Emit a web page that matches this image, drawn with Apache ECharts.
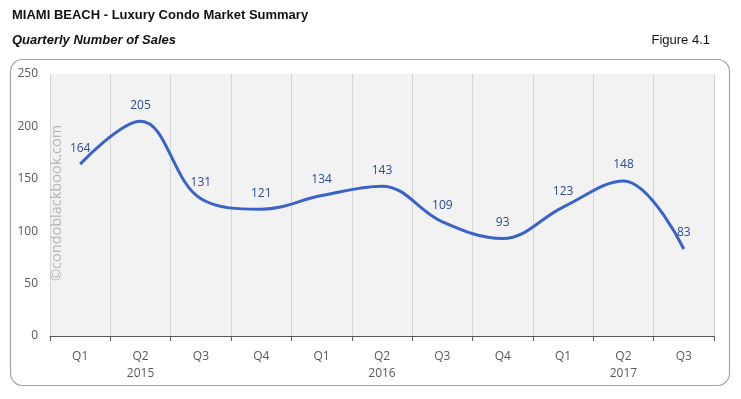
<!DOCTYPE html>
<html>
<head>
<meta charset="utf-8">
<script src="https://cdn.jsdelivr.net/npm/echarts@6/dist/echarts.min.js"></script>
<style>
  html, body { margin: 0; padding: 0; background: #fff; }
  #chart { width: 741px; height: 399px; }
</style>
</head>
<body>
<div id="chart"></div>
<script>
var quarters = ['Q1', 'Q2', 'Q3', 'Q4', 'Q1', 'Q2', 'Q3', 'Q4', 'Q1', 'Q2', 'Q3'];
var years = ['', '2015', '', '', '', '2016', '', '', '', '2017', ''];
var sales = [164, 205, 131, 121, 134, 143, 109, 93, 123, 148, 83];
var yTicks = [0, 50, 100, 150, 200, 250];

var myChart = echarts.init(document.getElementById('chart'));

var option = {
    animation: false,
    textStyle: { fontFamily: 'Open Sans, DejaVu Sans, sans-serif' },
    graphic: [
        {
            type: 'text', left: 12, top: 9,
            style: { text: 'MIAMI BEACH - Luxury Condo Market Summary', font: 'bold 13px "Liberation Sans Narrow", "Liberation Sans", Arial', fill: '#111' }
        },
        {
            type: 'text', left: 12, top: 34,
            style: { text: 'Quarterly Number of Sales', font: 'italic bold 13px "Liberation Sans Narrow", "Liberation Sans", Arial', fill: '#111' }
        },
        {
            type: 'text', right: 31, top: 34,
            style: { text: 'Figure 4.1', font: '13px "Liberation Sans Narrow", "Liberation Sans", Arial', fill: '#111' }
        },
        {
            type: 'rect', z: -10,
            shape: { x: 10.5, y: 59.5, width: 719, height: 326, r: 12 },
            style: { fill: '#fff', stroke: '#a6a6a6', lineWidth: 1.2 }
        },
        {
            type: 'text', z: 5,
            x: 49, y: 281, rotation: Math.PI / 2,
            style: { text: '©condoblackbook.com', font: '14.5px "Open Sans", sans-serif', fill: '#b5b5b5' }
        }
    ],
    grid: {
        left: 50, right: 27, top: 74, bottom: 63,
        show: true, backgroundColor: '#f2f2f2', borderWidth: 0
    },
    xAxis: {
        type: 'category',
        data: quarters,
        boundaryGap: true,
        axisLine: { lineStyle: { color: '#595959', width: 1 } },
        axisTick: { show: true, length: 5, lineStyle: { color: '#595959' } },
        splitLine: { show: true, lineStyle: { color: '#d4d4d4', width: 1 } },
        axisLabel: {
            color: '#595959', fontSize: 12, margin: 12, lineHeight: 17,
            formatter: function (v, i) {
                return years[i] ? v + '\n' + years[i] : v;
            }
        }
    },
    yAxis: {
        type: 'value',
        min: yTicks[0], max: yTicks[yTicks.length - 1], interval: 50,
        axisLine: { show: false },
        axisTick: { show: false },
        splitLine: { show: false },
        axisLabel: { color: '#595959', fontSize: 12, margin: 12 }
    },
    series: [{
        type: 'line',
        data: sales,
        smooth: 0.38,
        symbol: 'circle',
        symbolSize: 2,
        showSymbol: true,
        itemStyle: { color: 'rgba(0,0,0,0)', borderWidth: 0 },
        lineStyle: { color: '#3a62c8', width: 3 },
        label: {
            show: true, position: 'top', distance: 9,
            color: '#2e4b8c', fontSize: 12
        }
    }]
};

myChart.setOption(option);
</script>
</body>
</html>
